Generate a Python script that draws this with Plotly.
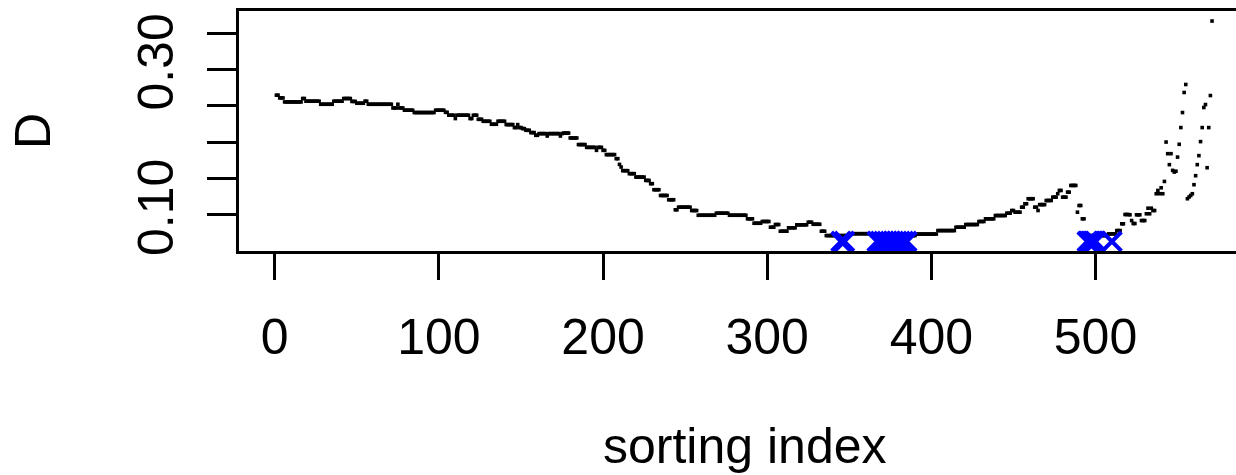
import numpy as np
import plotly.graph_objects as go

# ---- data ----
# main curve as plateaus: first sorting index of each plateau and its D value
run_start = [1, 3, 6, 17, 19, 28, 36, 42, 47, 50, 55, 57, 72, 75, 76, 79, 85, 98, 104, 106,
             110, 111, 119, 121, 124, 127, 132, 136, 141, 146, 148, 149, 151, 153, 156, 159,
             161, 166, 167, 174, 175, 176, 180, 185, 190, 196, 197, 200, 202, 208, 210, 211,
             212, 216, 220, 226, 229, 231, 235, 240, 244, 246, 254, 258, 269, 277, 288, 292,
             297, 302, 305, 308, 313, 318, 325, 328, 333, 336, 350, 364, 391, 404, 415, 421,
             429, 433, 439, 446, 449, 451, 455, 457, 459, 463, 465, 466, 470, 474, 477, 478,
             480, 483, 485, 489, 490, 492, 494, 508, 513, 516, 518]
run_value = [0.2646, 0.2608, 0.2553, 0.2600, 0.2563, 0.2521, 0.2563, 0.2600, 0.2560, 0.2535,
             0.2563, 0.2521, 0.2470, 0.2521, 0.2470, 0.2439, 0.2407, 0.2439, 0.2410, 0.2370,
             0.2324, 0.2370, 0.2324, 0.2370, 0.2314, 0.2287, 0.2246, 0.2287, 0.2241, 0.2200,
             0.2241, 0.2200, 0.2186, 0.2163, 0.2131, 0.2094, 0.2117, 0.2084, 0.2117, 0.2084,
             0.2117, 0.2125, 0.2057, 0.1966, 0.1928, 0.1887, 0.1928, 0.1887, 0.1828, 0.1772,
             0.1694, 0.1657, 0.1607, 0.1566, 0.1519, 0.1473, 0.1428, 0.1345, 0.1266, 0.1207,
             0.1069, 0.1105, 0.1059, 0.0994, 0.1022, 0.0994, 0.0945, 0.0884, 0.0908, 0.0829,
             0.0866, 0.0774, 0.0821, 0.0862, 0.0898, 0.0870, 0.0774, 0.0714, 0.0740, 0.0714,
             0.0735, 0.0783, 0.0829, 0.0866, 0.0908, 0.0945, 0.0990, 0.1022, 0.1059, 0.1036,
             0.1105, 0.1152, 0.1221, 0.1105, 0.1059, 0.1140, 0.1197, 0.1243, 0.1290, 0.1335,
             0.1243, 0.1312, 0.1404, 0.1036, 0.1128, 0.0945, 0.0714, 0.0738, 0.0783, 0.0876,
             0.1004]
# scattered tail, one value per index starting at tail_start
tail_start = 521
tail_value = [0.1000, 0.0921, 0.0880, 0.0880, 0.1000, 0.1000, 0.1000, 0.0921, 0.0921, 0.0921,
              0.1014, 0.1091, 0.1014, 0.1091, 0.1059, 0.1059, 0.1290, 0.1335, 0.1290, 0.1372,
              0.1290, 0.1459, 0.2001, 0.1841, 0.1690, 0.1841, 0.1611, 0.1588, 0.1600, 0.1794,
              0.1970, 0.2200, 0.2407, 0.2683, 0.2793, 0.1221, 0.1245, 0.1266, 0.1290, 0.1414,
              0.1538, 0.1690, 0.1814, 0.2007, 0.2200, 0.2476, 0.2517, 0.1648, 0.2200, 0.2641,
              0.3666]

# blue crosses
mark_x = [345, 347, 367, 369, 371, 373, 375, 377, 379, 381, 383, 385,
          495, 496, 497, 498, 499, 500, 510]
mark_y = [0.0633] * len(mark_x)

x_ticks = [0, 100, 200, 300, 400, 500]
y_ticks = [0.10, 0.15, 0.20, 0.25, 0.30, 0.35]
y_ticktext = ["0.10", "", "", "", "0.30", ""]

# ---- build series ----
lengths = np.diff(run_start + [tail_start])
D = np.concatenate([np.repeat(run_value, lengths), np.array(tail_value)])
idx = np.arange(1, len(D) + 1)

FONT = "Liberation Sans, Arial, sans-serif"
FS = 50

fig = go.Figure()
fig.add_trace(go.Scatter(
    x=idx, y=D, mode="markers",
    marker=dict(symbol="square", size=3.6, color="black", line=dict(width=0)),
    hoverinfo="skip", showlegend=False))
fig.add_trace(go.Scatter(
    x=mark_x, y=mark_y, mode="markers",
    marker=dict(symbol="x-thin", size=19, color="#0000FF",
                line=dict(width=4, color="#0000FF")),
    hoverinfo="skip", showlegend=False))

fig.update_layout(
    width=1236, height=475,
    margin=dict(l=239, r=0, t=11, b=224, pad=0),
    paper_bgcolor="white", plot_bgcolor="white",
    font=dict(family=FONT, size=FS, color="black"),
    xaxis=dict(range=[-21.8, 585.6], tickvals=x_ticks, ticktext=[str(v) for v in x_ticks],
               ticks="outside", ticklen=26, tickwidth=3, tickcolor="black",
               ticklabelstandoff=14,
               showline=True, linewidth=3, linecolor="black", mirror=True,
               showgrid=False, zeroline=False,
               tickfont=dict(family=FONT, size=FS, color="black")),
    yaxis=dict(range=[0.0502, 0.3804], tickvals=y_ticks, ticktext=y_ticktext,
               tickangle=-90, ticklabelstandoff=14,
               ticks="outside", ticklen=29, tickwidth=3, tickcolor="black",
               showline=True, linewidth=3, linecolor="black", mirror=False,
               showgrid=False, zeroline=False,
               tickfont=dict(family=FONT, size=FS, color="black")),
    annotations=[
        dict(text="sorting index", xref="paper", yref="paper",
             x=0.5074, y=-(446 - 251) / 239.5, xanchor="center", yanchor="middle",
             showarrow=False, font=dict(family=FONT, size=FS, color="black")),
        dict(text="D", xref="paper", yref="paper",
             x=(33 - 239) / 997, y=0.5, xanchor="center", yanchor="middle",
             textangle=-90, showarrow=False,
             font=dict(family=FONT, size=FS, color="black")),
    ],
)

fig.write_html("out.html")
